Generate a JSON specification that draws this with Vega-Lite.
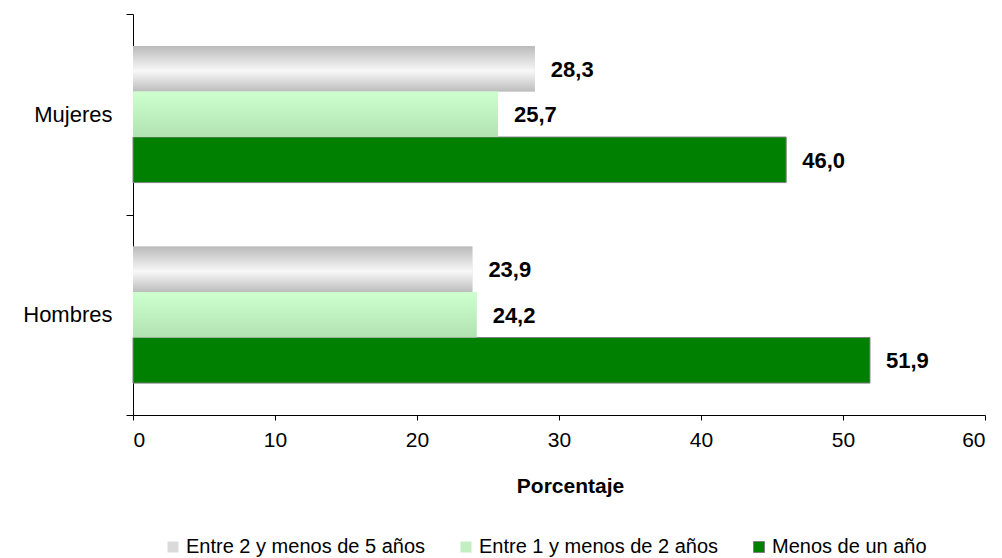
{
  "$schema": "https://vega.github.io/schema/vega-lite/v6.json",
  "width": 852,
  "height": 401,
  "autosize": {"type": "none"},
  "padding": {"left": 133, "top": 14, "right": 17, "bottom": 143},
  "background": "white",
  "config": {
    "view": {"stroke": null},
    "font": "Liberation Sans",
    "locale": {"number": {"decimal": ",", "thousands": ".", "grouping": [3], "currency": ["", " €"]}},
    "axis": {"grid": false, "domainColor": "black", "tickColor": "black", "labelColor": "black", "titleColor": "black", "labelFont": "Liberation Sans", "titleFont": "Liberation Sans"}
  },
  "data": {
    "values": [
      {"sexo": "Mujeres", "serie": "Entre 2 y menos de 5 años", "valor": 28.3},
      {"sexo": "Mujeres", "serie": "Entre 1 y menos de 2 años", "valor": 25.7},
      {"sexo": "Mujeres", "serie": "Menos de un año", "valor": 46.0},
      {"sexo": "Hombres", "serie": "Entre 2 y menos de 5 años", "valor": 23.9},
      {"sexo": "Hombres", "serie": "Entre 1 y menos de 2 años", "valor": 24.2},
      {"sexo": "Hombres", "serie": "Menos de un año", "valor": 51.9}
    ]
  },
  "encoding": {
    "y": {
      "field": "sexo", "type": "nominal", "sort": ["Mujeres", "Hombres"],
      "scale": {"paddingInner": 0, "paddingOuter": 0},
      "axis": {"title": null, "tickBand": "extent", "tickSize": 7, "labelPadding": 14, "labelFontSize": 22, "domainWidth": 1, "tickWidth": 1}
    },
    "yOffset": {
      "field": "serie", "type": "nominal",
      "sort": ["Entre 2 y menos de 5 años", "Entre 1 y menos de 2 años", "Menos de un año"],
      "scale": {"paddingInner": 0, "paddingOuter": 0.7}
    },
    "x": {
      "field": "valor", "type": "quantitative",
      "scale": {"domain": [0, 60], "nice": false},
      "axis": {"title": "Porcentaje", "values": [0, 10, 20, 30, 40, 50, 60], "format": "d", "tickSize": 5, "labelPadding": 9, "labelFontSize": 21, "titleFontSize": 21, "titleFontWeight": "bold", "titlePadding": 25, "titleX": 437}
    }
  },
  "layer": [
    {
      "mark": {"type": "bar", "strokeWidth": 1},
      "encoding": {
        "color": {
          "field": "serie", "type": "nominal",
          "sort": ["Entre 2 y menos de 5 años", "Entre 1 y menos de 2 años", "Menos de un año"],
          "scale": {"domain": ["Entre 2 y menos de 5 años", "Entre 1 y menos de 2 años", "Menos de un año"], "range": ["#dadada", "#c2efc2", "#008000"]},
          "legend": {
            "title": null, "orient": "none", "direction": "horizontal", "columns": 3,
            "legendX": 30, "legendY": 523, "padding": 0,
            "symbolType": "square", "symbolSize": 121, "symbolStrokeWidth": 1,
            "labelFontSize": 20, "labelFont": "Liberation Sans", "labelColor": "black", "labelOffset": 3,
            "columnPadding": 30, "labelLimit": 400
          }
        },
        "stroke": {
          "field": "serie", "type": "nominal",
          "sort": ["Entre 2 y menos de 5 años", "Entre 1 y menos de 2 años", "Menos de un año"],
          "scale": {"domain": ["Entre 2 y menos de 5 años", "Entre 1 y menos de 2 años", "Menos de un año"], "range": ["rgba(0,0,0,0)", "rgba(0,0,0,0)", "#808080"]},
          "legend": {
            "title": null, "orient": "none", "direction": "horizontal", "columns": 3,
            "legendX": 30, "legendY": 523, "padding": 0,
            "symbolType": "square", "symbolSize": 121, "symbolStrokeWidth": 1,
            "labelFontSize": 20, "labelFont": "Liberation Sans", "labelColor": "black", "labelOffset": 3,
            "columnPadding": 30, "labelLimit": 400
          }
        }
      }
    },
    {
      "transform": [{"filter": "datum.serie === 'Entre 2 y menos de 5 años'"}],
      "mark": {
        "type": "bar",
        "fill": {"gradient": "linear", "x1": 0, "y1": 0, "x2": 0, "y2": 1, "stops": [
          {"offset": 0, "color": "#bababa"},
          {"offset": 0.55, "color": "#f8f8f8"},
          {"offset": 1, "color": "#bdbdbd"}
        ]}
      }
    },
    {
      "transform": [{"filter": "datum.serie === 'Entre 1 y menos de 2 años'"}],
      "mark": {
        "type": "bar",
        "fill": {"gradient": "linear", "x1": 0, "y1": 0, "x2": 0, "y2": 1, "stops": [
          {"offset": 0, "color": "#ceffce"},
          {"offset": 1, "color": "#b2e2b2"}
        ]}
      }
    },
    {
      "mark": {"type": "text", "align": "left", "baseline": "middle", "dx": 16, "dy": 1, "fontSize": 22, "fontWeight": "bold", "color": "black", "font": "Liberation Sans"},
      "encoding": {
        "text": {"field": "valor", "type": "quantitative", "format": ".1f"}
      }
    }
  ]
}
